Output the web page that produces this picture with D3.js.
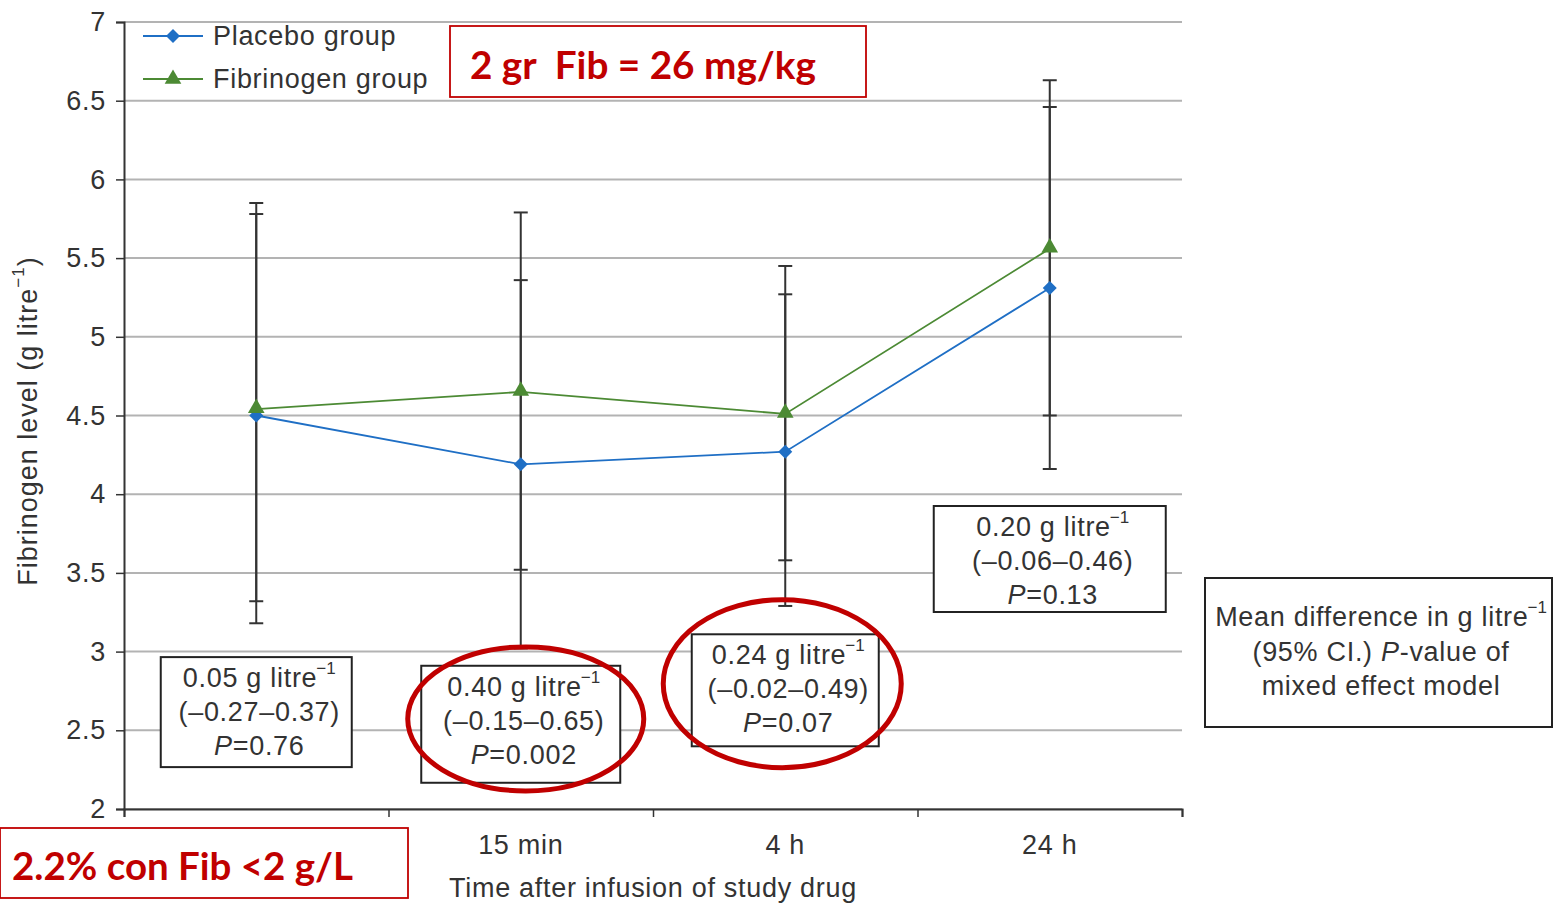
<!DOCTYPE html>
<meta charset="utf-8">
<script src="https://d3js.org/d3.v7.min.js"></script>
<style>
  body { margin: 0; background: #fff; }
  text { font-family: "Liberation Sans", Arial, sans-serif; }
  .lbl { font-size: 27px; letter-spacing: 0.7px; }
</style>
<div id="my_dataviz"></div>
<script>

// data
var categories = ["", "15 min", "4 h", "24 h"];
var placeboMean  = [4.50, 4.19, 4.27, 5.31];
var placeboUpper = [5.85, 5.36, 5.27, 6.46];
var placeboLower = [3.18, 3.02, 3.29, 4.16];
var fibMean  = [4.54, 4.65, 4.51, 5.56];
var fibUpper = [5.78, 5.79, 5.45, 6.63];
var fibLower = [3.32, 3.52, 3.58, 4.50];
var yTicks = [2, 2.5, 3, 3.5, 4, 4.5, 5, 5.5, 6, 6.5, 7];
var yTickLabels = ["2", "2.5", "3", "3.5", "4", "4.5", "5", "5.5", "6", "6.5", "7"];
var diffValues = ["0.05", "0.40", "0.24", "0.20"];
var diffCI = ["(\u20130.27\u20130.37)", "(\u20130.15\u20130.65)", "(\u20130.02\u20130.49)", "(\u20130.06\u20130.46)"];
var diffP = ["0.76", "0.002", "0.07", "0.13"];

// annotation box layout (top in axis units, size in px)
var boxTop = [2.965, 2.91, 3.11, 3.925];
var boxW = [191, 199, 187, 232];
var boxH = [110, 117, 112, 106];

var width = 1555, height = 904;
var margin = {top: 22, left: 124, right: 373, bottom: 95};
var plotW = width - margin.left - margin.right,
    plotH = height - margin.top - margin.bottom;

var svg = d3.select("#my_dataviz").append("svg")
    .attr("width", width).attr("height", height);
var g = svg.append("g")
    .attr("transform", "translate(" + margin.left + "," + margin.top + ")");

var y = d3.scaleLinear().domain([2, 7]).range([plotH, 0]);
var x = d3.scaleBand().domain(d3.range(categories.length)).range([0, plotW]).padding(0);
var xEdge = d3.scaleLinear().domain([0, categories.length]).range([0, plotW]);
var cx = function(i) { return x(i) + x.bandwidth() / 2; };

var dark = "#333";
var blue = "#1f6fc5", green = "#4c8a34";

// gridlines
g.selectAll(".grid").data(yTicks).enter().append("line")
  .attr("x1", 0).attr("x2", plotW)
  .attr("y1", d => y(d)).attr("y2", d => y(d))
  .attr("stroke", "#b3b3b3").attr("stroke-width", 2);

// y axis
var yAxis = g.append("g")
  .call(d3.axisLeft(y).tickValues(yTicks).tickSize(8)
        .tickFormat((d, i) => yTickLabels[i]));
yAxis.select(".domain").attr("stroke", dark).attr("stroke-width", 2);
yAxis.selectAll(".tick line").attr("stroke", dark).attr("stroke-width", 1.5);
yAxis.selectAll(".tick text").attr("x", -18).attr("fill", dark)
  .attr("class", "lbl").style("font-family", "Liberation Sans, Arial");

// x axis
var xAxis = g.append("g").attr("transform", "translate(0," + plotH + ")")
  .call(d3.axisBottom(xEdge).ticks(4).tickSize(8).tickFormat(""));
xAxis.select(".domain").attr("stroke", dark).attr("stroke-width", 2);
xAxis.selectAll(".tick line").attr("stroke", dark).attr("stroke-width", 1.5);

g.selectAll(".cat").data(categories).enter().append("text")
  .attr("class", "lbl")
  .attr("x", (d, i) => cx(i)).attr("y", plotH + 36)
  .attr("text-anchor", "middle").attr("dominant-baseline", "central")
  .attr("fill", dark).text(d => d);

svg.append("text").attr("class", "lbl")
  .attr("x", margin.left + xEdge(2)).attr("y", 888)
  .attr("text-anchor", "middle").attr("dominant-baseline", "central")
  .attr("fill", dark)
  .text("Time after infusion of study drug");

var yt = svg.append("text").attr("class", "lbl")
  .attr("transform", "translate(28," + 421 + ") rotate(-90)")
  .attr("text-anchor", "middle").attr("dominant-baseline", "central")
  .attr("fill", dark).style("letter-spacing", "1px");
yt.append("tspan").text("Fibrinogen level (g litre");
yt.append("tspan").attr("dy", -10).style("font-size", "17px").text("\u22121");
yt.append("tspan").attr("dy", 10).text(")");

// error bars
function errorBars(upper, lower) {
  var eb = g.append("g");
  eb.selectAll("line.v").data(upper).enter().append("line")
    .attr("x1", (d, i) => cx(i)).attr("x2", (d, i) => cx(i))
    .attr("y1", d => y(d)).attr("y2", (d, i) => y(lower[i]))
    .attr("stroke", dark).attr("stroke-width", 2);
  [upper, lower].forEach(function(arr) {
    eb.selectAll(null).data(arr).enter().append("line")
      .attr("x1", (d, i) => cx(i) - 7).attr("x2", (d, i) => cx(i) + 7)
      .attr("y1", d => y(d)).attr("y2", d => y(d))
      .attr("stroke", dark).attr("stroke-width", 2);
  });
}
errorBars(placeboUpper, placeboLower);
errorBars(fibUpper, fibLower);

// lines
var line = d3.line().x((d, i) => cx(i)).y(d => y(d));
g.append("path").datum(fibMean).attr("fill", "none")
  .attr("stroke", green).attr("stroke-width", 1.8).attr("d", line);
g.append("path").datum(placeboMean).attr("fill", "none")
  .attr("stroke", blue).attr("stroke-width", 1.8).attr("d", line);

var diamond = d3.symbol().type(d3.symbolDiamond2).size(125);
var triangle = d3.symbol().type(d3.symbolTriangle).size(120);
g.selectAll(".pm").data(placeboMean).enter().append("path")
  .attr("d", diamond).attr("fill", blue)
  .attr("transform", (d, i) => "translate(" + cx(i) + "," + y(d) + ")");
g.selectAll(".fm").data(fibMean).enter().append("path")
  .attr("d", triangle).attr("fill", green)
  .attr("transform", (d, i) => "translate(" + cx(i) + "," + (y(d) - 1) + ")");

// legend
var legend = [{label: "Placebo group", color: blue, sym: diamond},
              {label: "Fibrinogen group", color: green, sym: triangle}];
var lg = svg.selectAll(".leg").data(legend).enter().append("g")
  .attr("transform", (d, i) => "translate(143," + (36 + i * 43) + ")");
lg.append("line").attr("x1", 0).attr("x2", 60)
  .attr("stroke", d => d.color).attr("stroke-width", 1.8);
lg.append("path").attr("d", d => d.sym()).attr("fill", d => d.color)
  .attr("transform", "translate(30,0)");
lg.append("text").attr("class", "lbl").attr("x", 70).attr("dominant-baseline", "central")
  .attr("fill", dark).text(d => d.label);

// mean difference boxes
function supLine(sel, before, sup) {
  sel.append("tspan").text(before);
  sel.append("tspan").attr("dy", -10).attr("dx", -1)
    .style("font-size", "17px").style("letter-spacing", "0px").text(sup);
}
function boxText(sel, yy) {
  return sel.append("text").attr("class", "lbl").attr("y", yy).attr("x", 3)
    .attr("text-anchor", "middle").attr("dominant-baseline", "central").attr("fill", dark);
}
diffValues.forEach(function(v, i) {
  var bx = margin.left + cx(i), by = margin.top + y(boxTop[i]);
  var b = svg.append("g").attr("transform", "translate(" + bx + "," + by + ")");
  b.append("rect").attr("x", -boxW[i] / 2).attr("y", 0)
    .attr("width", boxW[i]).attr("height", boxH[i])
    .attr("fill", "#fff").attr("stroke", "#222").attr("stroke-width", 2);
  supLine(boxText(b, 21), v + " g litre", "\u22121");
  boxText(b, 55).text(diffCI[i]);
  var t3 = boxText(b, 89);
  t3.append("tspan").style("font-style", "italic").text("P");
  t3.append("tspan").text("=" + diffP[i]);
});

// explanation box
var nb = svg.append("g").attr("transform", "translate(1378,578)");
nb.append("rect").attr("x", -173).attr("y", 0).attr("width", 347).attr("height", 149)
  .attr("fill", "#fff").attr("stroke", "#222").attr("stroke-width", 2);
supLine(boxText(nb, 39), "Mean difference in g litre", "\u22121");
var n2 = boxText(nb, 74);
n2.append("tspan").text("(95% CI.) ");
n2.append("tspan").style("font-style", "italic").text("P");
n2.append("tspan").text("-value of");
boxText(nb, 108).text("mixed effect model");

// red highlights
var red = "#c00000";
var ellipses = [{i: 1, dx: 5, top: 3.03, rx: 118, ry: 72},
                {i: 2, dx: -3, top: 3.33, rx: 119, ry: 84}];
ellipses.forEach(function(e) {
  svg.append("ellipse")
    .attr("cx", margin.left + cx(e.i) + e.dx)
    .attr("cy", margin.top + y(e.top) + e.ry)
    .attr("rx", e.rx).attr("ry", e.ry)
    .attr("fill", "none").attr("stroke", red).attr("stroke-width", 5);
});

function redNote(x0, y0, w, h, label, tx, tw) {
  svg.append("rect").attr("x", x0).attr("y", y0).attr("width", w).attr("height", h)
    .attr("fill", "#fff").attr("stroke", red).attr("stroke-width", 1.8);
  svg.append("text").attr("x", tx).attr("y", y0 + h / 2 + 2)
    .attr("dominant-baseline", "central").attr("fill", red)
    .style("font-family", "Lato, 'Open Sans', sans-serif").style("font-weight", "bold")
    .style("font-size", "38px")
    .attr("textLength", tw).attr("lengthAdjust", "spacingAndGlyphs")
    .text(label);
}
redNote(450, 26, 416, 71, "2 gr\u00a0 Fib = 26 mg/kg", 470, 346);
redNote(0, 828, 408, 70, "2.2% con Fib <2 g/L", 12, 341);

</script>
